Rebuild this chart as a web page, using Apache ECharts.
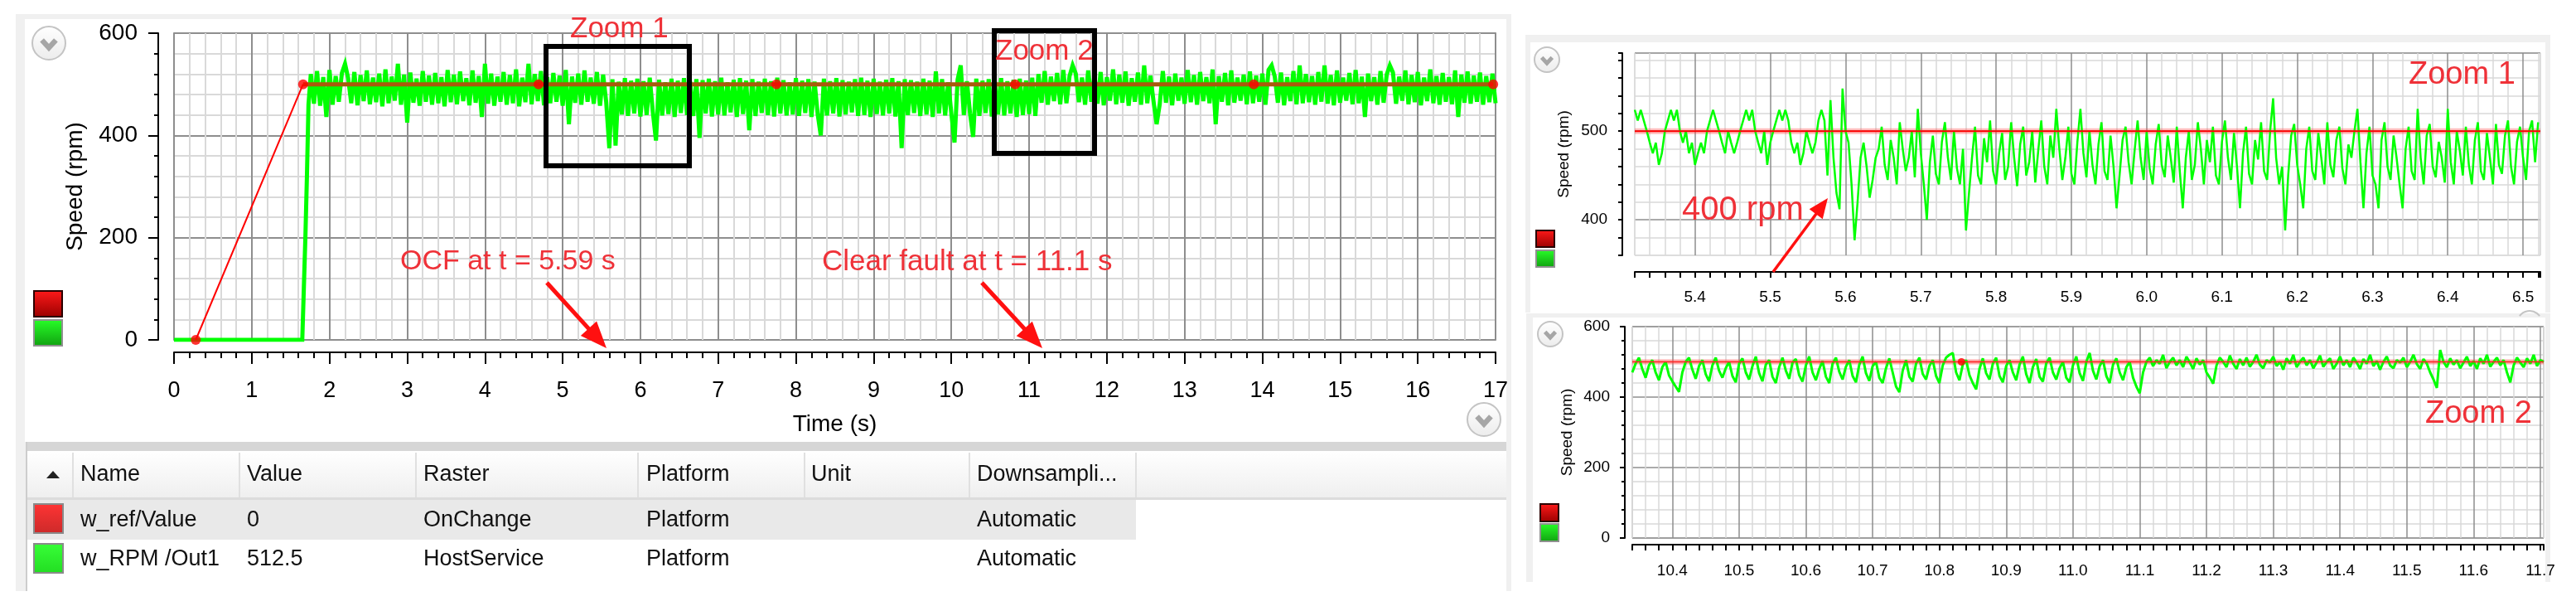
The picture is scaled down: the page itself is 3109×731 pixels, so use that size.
<!DOCTYPE html>
<html>
<head>
<meta charset="utf-8">
<script src="https://cdn.jsdelivr.net/npm/echarts@6/dist/echarts.min.js"></script>
<style>
  html, body { margin: 0; padding: 0; background: #fff; }
  #chart { width: 3109px; height: 731px; }
</style>
</head>
<body>
<div id="chart"></div>
<script>
// ---- main plot (time in s) ----
const refT = [0.28, 1.66, 4.69, 7.75, 10.82, 13.89, 16.97];
const refV = [0, 500, 500, 500, 500, 500, 500];
const startT = [0, 1.65, 1.67, 1.69, 1.71, 1.73];
const startV = [0, 0, 100, 200, 320, 460];
const noiseStep = 0.04;
const segAStart = 1.76; // before fault
const segA = [
  520,462,526,458,514,436,528,460,516,466,
  522,540,512,463,524,459,518,467,527,461,
  513,465,521,457,529,463,515,468,540,460,
  519,425,523,464,511,458,526,466,517,460,
  522,463,514,457,528,465,519,461,525,467,
  512,459,527,464,516,436,540,462,521,458,
  515,466,524,460,518,463,529,457,513,465,
  540,461,520,467,526,459,514,463,522,466,
  517,458,528,422,515,464,521,460,527,466,
  513,462,524,458,519,465
];
const segBStart = 5.60; // open circuit fault
const segB = [
  375,510,380,505,441,512,438,507,443,511,
  437,506,440,513,445,390,509,439,504,442,
  511,436,507,444,512,440,505,438,510,395,
  508,443,511,437,506,441,513,439,504,445,
  509,436,512,442,507,410,510,438,505,444,
  511,440,506,437,513,443,508,439,504,441,
  512,438,507,444,510,436,505,442,400,511,
  439,506,443,512,437,508,441,505,445,510,
  438,513,440,507,436,511,442,505,439,509,
  443,512,437,506,375,510,440,508,444,505,
  438,511,441,507,436,525,443,510,439,504,
  442,386,509,537,440,506,443,397,511,438,
  507,444,510,437,505,441,512,439,506,443,
  509,436,511,440,507,442,513,438
];
const segCStart = 11.12; // fault cleared
const segC = [
  520,464,526,460,515,467,522,461,528,463,
  516,537,521,465,513,460,527,466,518,462,
  524,459,514,468,529,461,519,464,525,458,
  512,466,523,460,537,463,517,467,422,461,
  526,464,515,459,521,468,513,462,528,465,
  518,460,524,467,514,463,529,422,516,466,
  522,459,527,464,513,468,519,461,525,463,
  517,466,521,460,528,537,515,464,523,459,
  514,467,526,461,537,463,520,465,516,460,
  524,466,537,462,518,459,527,464,513,468,
  522,461,528,463,515,436,521,467,514,460,
  526,464,519,537,523,462,515,468,527,461,
  518,465,524,459,513,467,529,463,516,460,
  522,466,514,461,527,436,519,464,525,462,
  517,466,523,460,516,465,521,463
];

// ---- zoom 1 (time in ms) ----
const zoom1Start = 5320;
const zoom1Step = 4;
const zoom1V = [
  524,512,524,512,500, 487,475,487,462,475, 500,512,524,512,524,500,
  487,500,475,487,462, 475,487,475,500, 512,524,512,500,
  487,475,500,487,475,487,500, 512,524,512,524,500, 487,475,500,462,487,
  500,512,524,512,524,512, 487,475,487,462,475,500,487,475,487, 512,524,512,
  450,535,470,430,412,548,500,487,440,377,420,470,487,460,425,445,470,
  480,505,462,445,490,470,440,510,480,455,
  470,500,448,525,475,440,400,465,495,452,
  440,488,510,470,445,500,458,440,480,388,
  430,470,505,450,440,492,465,512,455,440,
  475,498,445,460,510,470,438,485,505,450,
  465,500,442,478,512,460,440,495,470,525,
  480,445,470,505,452,440,488,525,475,448,
  500,462,440,485,510,455,445,495,460,413,
  450,490,505,465,440,478,512,470,445,500,
  458,440,485,508,462,448,495,470,442,505,
  455,413,470,500,445,462,510,480,440,490,
  465,505,450,440,488,512,470,445,498,460,
  413,475,505,452,440,490,468,510,455,445,
  500,537,470,440,460,388,450,495,508,462,
  440,413,480,505,455,445,498,470,440,510,
  462,448,490,505,458,440,485,470,500,525,
  465,413,475,505,450,440,413,490,510,460,
  445,495,470,440,413,480,505,455,445,525,
  470,440,495,508,460,448,488,470,442,525,
  465,440,500,478,450,505,462,440,490,510,
  455,445,498,470,440,508,462,452,495,512,
  460,440,488,505,470,445,500,512,465,510
];
const zoom1RefT = [5320, 6523];
const zoom1RefV = [500, 500];

// ---- zoom 2 (time in ms) ----
const zoom2Start = 10340;
const zoom2Step = 5;
const zoom2V = [
  470,495,512,480,455,490,505,470,448,485,500,462,
  445,430,415,470,500,512,478,452,488,505,465,445,
  490,512,475,455,482,500,460,442,495,510,470,450,
  488,515,468,445,492,505,458,440,485,512,475,452,
  498,508,462,444,490,515,470,448,480,502,458,440,
  495,512,472,450,486,505,460,442,492,515,468,446,
  488,500,455,440,482,510,470,430,414,475,505,458,
  444,495,512,466,450,488,505,460,440,490,512,520,
  525,470,448,492,505,462,440,422,480,510,468,450,
  495,512,460,442,488,505,470,448,492,515,465,440,
  485,508,458,444,496,512,470,450,482,500,455,442,
  490,515,468,446,500,525,475,450,488,505,460,440,
  492,510,470,448,485,500,455,430,411,
  470,500,512,488,505,495,520,482,500,512,490,505,
  485,515,498,480,510,492,505,470,455,438,490,512,
  500,485,518,495,480,508,490,512,486,500,520,492,
  482,505,498,515,488,500,478,510,495,520,485,500,
  512,490,505,482,498,518,486,500,510,480,495,515,
  490,505,485,512,498,480,508,495,520,488,502,478,
  500,515,490,482,505,498,512,485,500,520,494,480,
  508,495,470,450,426,534,500,485,510,492,505,482,
  498,515,488,502,480,510,495,520,486,500,512,490,
  505,470,442,490,512,498,485,510,495,520,488,505,
  500
];
const zoom2RefT = [10340, 10833, 11705];
const zoom2RefV = [500, 500, 500];

// ---- signal table ----
const tableHeads = ['Name', 'Value', 'Raster', 'Platform', 'Unit', 'Downsampli...'];
const tableRows = [
  ['w_ref/Value', '0', 'OnChange', 'Platform', '', 'Automatic'],
  ['w_RPM /Out1', '512.5', 'HostService', 'Platform', '', 'Automatic']
];
const tableColX = [97, 298, 511, 780, 979, 1179];
const tableSepX = [87, 288, 501, 769, 970, 1169, 1370];

const FONT = 'Liberation Sans, Arial, sans-serif';
const RED_TXT = '#ef3138';
const MAJOR = '#8e8e8e';
const MINOR = '#d9d9d9';

const mainGreen = startT.map((t, i) => [t, startV[i]]);
[[segAStart, segA], [segBStart, segB], [segCStart, segC]].forEach(([t0, vals]) => {
  vals.forEach((v, i) => mainGreen.push([+(t0 + i * noiseStep).toFixed(3), v]));
});
const z1Green = zoom1V.map((v, i) => [zoom1Start + i * zoom1Step, v]);
const z2Green = zoom2V.map((v, i) => [zoom2Start + i * zoom2Step, v]);
const refPts = refT.map((t, i) => [t, refV[i]]);

function box(x, y, w, h, fill, z) {
  return { type: 'rect', silent: true, z: z === undefined ? -50 : z,
    shape: { x: x, y: y, width: w, height: h }, style: { fill: fill } };
}
function txt(x, y, s, size, color, z) {
  return { type: 'text', silent: true, z: z || 60, x: x, y: y,
    style: { text: s, fontSize: size, fontFamily: FONT, fill: color, verticalAlign: 'middle', align: 'left' } };
}
function grad(c1, c2) {
  return new echarts.graphic.LinearGradient(0, 0, 0, 1, [{ offset: 0, color: c1 }, { offset: 1, color: c2 }]);
}
function swatch(x, y, w, h, c1, c2, border) {
  return { type: 'rect', silent: true, z: 60, shape: { x: x, y: y, width: w, height: h },
    style: { fill: grad(c1, c2), stroke: border, lineWidth: 2 } };
}
function dropIcon(cx, cy, r) {
  return [
    { type: 'circle', silent: true, z: 60, shape: { cx: cx, cy: cy, r: r },
      style: { fill: grad('#ffffff', '#ececec'), stroke: '#c4c4c4', lineWidth: 2 } },
    { type: 'polyline', silent: true, z: 61,
      shape: { points: [[cx - r * 0.42, cy - r * 0.18], [cx, cy + r * 0.28], [cx + r * 0.42, cy - r * 0.18]] },
      style: { fill: 'none', stroke: '#a6a6a6', lineWidth: r * 0.32 } }
  ];
}
function arrow(x1, y1, x2, y2, w, hl, hw) {
  const len = Math.hypot(x2 - x1, y2 - y1);
  const ux = (x2 - x1) / len, uy = (y2 - y1) / len;
  const bx = x2 - ux * hl, by = y2 - uy * hl;
  return [
    { type: 'line', silent: true, z: 60, shape: { x1: x1, y1: y1, x2: bx + ux * 2, y2: by + uy * 2 },
      style: { stroke: '#ff1010', lineWidth: w } },
    { type: 'polygon', silent: true, z: 61,
      shape: { points: [[x2, y2], [bx - uy * hw / 2, by + ux * hw / 2], [bx + uy * hw / 2, by - ux * hw / 2]] },
      style: { fill: '#ff1010' } }
  ];
}
function frame(x, y, w, h, stroke) {
  return { type: 'rect', silent: true, z: 60, shape: { x: x, y: y, width: w, height: h },
    style: { fill: 'none', stroke: stroke, lineWidth: 6 } };
}

const graphics = [
  // panels
  box(19, 17, 1805, 696, '#f0f0f0'),
  box(30, 23, 1788, 510, '#ffffff'),
  box(1841, 42, 1237, 335, '#f0f0f0'),
  box(1847, 51, 1225, 326, '#ffffff'),
  box(1842, 378, 1236, 324, '#f0f0f0'),
  box(1850, 383, 1222, 319, '#ffffff'),
  // table
  box(33, 533, 1785, 180, '#ffffff', -40),
  box(33, 533, 1785, 11, '#d6d6d6', -39),
  { type: 'rect', silent: true, z: -39, shape: { x: 33, y: 544, width: 1785, height: 56 },
    style: { fill: grad('#ffffff', '#efefef') } },
  box(33, 600, 1785, 3, '#dcdcdc', -38),
  box(33, 603, 1338, 48, '#e9e9e9', -38),
  box(31, 533, 2, 180, '#cdcdcd', -38),
  { type: 'polygon', silent: true, z: 60, shape: { points: [[56, 577], [72, 577], [64, 568]] }, style: { fill: '#222' } }
];
tableSepX.forEach(x => graphics.push(box(x, 546, 2, 54, '#e0e0e0', -37)));
tableHeads.forEach((h, i) => graphics.push(txt(tableColX[i], 573, h, 27, '#111')));
tableRows.forEach((row, r) => {
  row.forEach((s, i) => { if (s) graphics.push(txt(tableColX[i], 628 + r * 47, s, 27, '#111')); });
});
graphics.push(
  swatch(41, 608, 35, 35, '#ff3434', '#cc2a2a', '#8a8a8a'),
  swatch(41, 656, 35, 35, '#38ff38', '#22dd22', '#8a8a8a'),
  // legend swatches in plots
  swatch(41, 351, 34, 31, '#ff1a1a', '#9a0000', '#2a0000'),
  swatch(41, 386, 34, 31, '#28ff28', '#10a010', '#909090'),
  swatch(1854, 278, 22, 20, '#ff1a1a', '#9a0000', '#2a0000'),
  swatch(1854, 302, 22, 20, '#28ff28', '#10a010', '#909090'),
  swatch(1859, 608, 22, 21, '#ff1a1a', '#9a0000', '#2a0000'),
  swatch(1859, 632, 22, 21, '#28ff28', '#10a010', '#909090'),
  // annotations
  frame(659, 56, 173, 144, '#000'),
  frame(1200, 37, 121, 148, '#000'),
  txt(688, 35, 'Zoom 1', 35, RED_TXT),
  txt(1201, 62, 'Zoom 2', 35, RED_TXT),
  txt(483, 316, 'OCF at t = 5.59 s', 34, RED_TXT),
  txt(992, 316, 'Clear fault at t = 11.1 s', 35, RED_TXT),
  txt(2030, 254, '400 rpm', 40, RED_TXT),
  txt(2907, 91, 'Zoom 1', 38, RED_TXT),
  txt(2927, 500, 'Zoom 2', 38, RED_TXT),
  { type: 'arc', silent: true, z: 60, shape: { cx: 3053, cy: 390, r: 15, startAngle: Math.PI * 1.2, endAngle: Math.PI * 1.8 },
    style: { fill: 'none', stroke: '#c4c4c4', lineWidth: 2 } }
);
graphics.push(...arrow(660, 341, 732, 420, 5, 32, 26));
graphics.push(...arrow(1185, 341, 1258, 420, 5, 32, 26));
graphics.push(...arrow(2140, 328, 2206, 239, 3.5, 24, 20));
graphics.push(...dropIcon(59, 52, 20), ...dropIcon(1791, 506, 20), ...dropIcon(1867, 72, 15), ...dropIcon(1871, 403, 15));

const axisBlack = { show: true, onZero: false, lineStyle: { color: '#000', width: 2 } };
const smallLabel = { fontSize: 19, color: '#000', fontFamily: FONT };

const chart = echarts.init(document.getElementById('chart'), null, { renderer: 'canvas' });
chart.setOption({
  animation: false,
  backgroundColor: '#ffffff',
  textStyle: { fontFamily: FONT },
  graphic: { elements: graphics },
  grid: [
    { left: 210, top: 40, width: 1595, height: 370, show: true, borderColor: '#a4a4a4', borderWidth: 2, outerBoundsMode: 'none' },
    { left: 1973, top: 64, width: 1093, height: 244, show: true, borderColor: '#d4d4d4', borderWidth: 1, outerBoundsMode: 'none' },
    { left: 1970, top: 394, width: 1100, height: 255, show: true, borderColor: '#a4a4a4', borderWidth: 1, outerBoundsMode: 'none' }
  ],
  xAxis: [
    {
      type: 'value', gridIndex: 0, min: 0, max: 17, interval: 1, offset: 15,
      axisLine: axisBlack,
      axisTick: { length: 14, lineStyle: { color: '#000', width: 2 } },
      minorTick: { show: true, splitNumber: 5, length: 7, lineStyle: { color: '#000', width: 2 } },
      axisLabel: { fontSize: 27, color: '#000', margin: 33, fontFamily: FONT },
      splitLine: { show: true, lineStyle: { color: MAJOR, width: 2 } },
      minorSplitLine: { show: true, lineStyle: { color: MINOR, width: 2 } },
      name: 'Time (s)', nameLocation: 'middle', nameGap: 73, nameMoveOverlap: false,
      nameTextStyle: { fontSize: 28, color: '#000', fontFamily: FONT }
    },
    {
      type: 'value', gridIndex: 1, min: 5320, max: 6523, interval: 20, offset: 20,
      axisLine: axisBlack,
      axisTick: { length: 7, lineStyle: { color: '#000', width: 2 } },
      axisLabel: Object.assign({ margin: 21, formatter: v => Math.round(v) % 100 === 0 ? (v / 1000).toFixed(1) : '' }, smallLabel),
      splitLine: { show: true, lineStyle: { color: [MINOR, MINOR, MINOR, MINOR, MAJOR], width: 1.5 } }
    },
    {
      type: 'value', gridIndex: 2, min: 10340, max: 11705, interval: 20, offset: 8,
      axisLine: axisBlack,
      axisTick: { length: 7, lineStyle: { color: '#000', width: 2 } },
      axisLabel: Object.assign({ margin: 22, formatter: v => Math.round(v) % 100 === 0 ? (v / 1000).toFixed(1) : '' }, smallLabel),
      splitLine: { show: true, lineStyle: { color: [MINOR, MINOR, MINOR, MAJOR, MINOR], width: 1.5 } }
    }
  ],
  yAxis: [
    {
      type: 'value', gridIndex: 0, min: 0, max: 600, interval: 200, offset: 19,
      axisLine: axisBlack,
      axisTick: { length: 12, lineStyle: { color: '#000', width: 2 } },
      minorTick: { show: true, splitNumber: 5, length: 5, lineStyle: { color: '#000', width: 2 } },
      axisLabel: { fontSize: 28, color: '#000', margin: 25, fontFamily: FONT },
      splitLine: { show: true, lineStyle: { color: MAJOR, width: 2 } },
      minorSplitLine: { show: true, lineStyle: { color: MINOR, width: 2 } },
      name: 'Speed (rpm)', nameLocation: 'middle', nameGap: 86, nameMoveOverlap: false,
      nameTextStyle: { fontSize: 28, color: '#000', fontFamily: FONT }
    },
    {
      type: 'value', gridIndex: 1, min: 360, max: 588, interval: 20, offset: 15,
      axisLine: axisBlack,
      axisTick: { length: 5, lineStyle: { color: '#000', width: 2 } },
      axisLabel: Object.assign({ margin: 18, formatter: v => (v === 400 || v === 500) ? String(v) : '' }, smallLabel),
      splitLine: { show: true, lineStyle: { color: [MINOR, MINOR, MAJOR, MINOR, MINOR], width: 1.5 } },
      name: 'Speed (rpm)', nameLocation: 'middle', nameGap: 61, nameMoveOverlap: false,
      nameTextStyle: { fontSize: 19, color: '#000', fontFamily: FONT }
    },
    {
      type: 'value', gridIndex: 2, min: 0, max: 600, interval: 200, offset: 9,
      axisLine: axisBlack,
      axisTick: { length: 6, lineStyle: { color: '#000', width: 2 } },
      minorTick: { show: true, splitNumber: 5, length: 4, lineStyle: { color: '#000', width: 2 } },
      axisLabel: Object.assign({ margin: 18 }, smallLabel),
      splitLine: { show: true, lineStyle: { color: MAJOR, width: 1.5 } },
      minorSplitLine: { show: true, lineStyle: { color: MINOR, width: 1.5 } },
      name: 'Speed (rpm)', nameLocation: 'middle', nameGap: 60, nameMoveOverlap: false,
      nameTextStyle: { fontSize: 19, color: '#000', fontFamily: FONT }
    }
  ],
  series: [
    { type: 'line', xAxisIndex: 0, yAxisIndex: 0, data: mainGreen, showSymbol: false, z: 2, sampling: 'none',
      lineStyle: { color: '#00ff00', width: 5, join: 'miter', miterLimit: 4 } },
    { type: 'line', xAxisIndex: 0, yAxisIndex: 0, data: refPts.slice(0, 2), showSymbol: false, z: 3,
      lineStyle: { color: '#ff0000', width: 2 } },
    { type: 'line', xAxisIndex: 0, yAxisIndex: 0, data: refPts.slice(1), showSymbol: false, z: 3,
      lineStyle: { color: '#a85a0c', width: 5 } },
    { type: 'scatter', xAxisIndex: 0, yAxisIndex: 0, data: refPts, symbolSize: 12, z: 4,
      itemStyle: { color: '#ff0000' } },

    { type: 'line', xAxisIndex: 1, yAxisIndex: 1, data: zoom1RefT.map((t, i) => [t, zoom1RefV[i]]), showSymbol: false, z: 2,
      lineStyle: { color: 'rgba(255,70,70,0.35)', width: 7 } },
    { type: 'line', xAxisIndex: 1, yAxisIndex: 1, data: z1Green, showSymbol: false, z: 3,
      lineStyle: { color: '#00ff00', width: 2.5 } },
    { type: 'line', xAxisIndex: 1, yAxisIndex: 1, data: zoom1RefT.map((t, i) => [t, zoom1RefV[i]]), showSymbol: false, z: 4,
      lineStyle: { color: '#ff0000', width: 2 } },

    { type: 'line', xAxisIndex: 2, yAxisIndex: 2, data: zoom2RefT.map((t, i) => [t, zoom2RefV[i]]), showSymbol: false, z: 2,
      lineStyle: { color: 'rgba(255,70,70,0.45)', width: 6 } },
    { type: 'line', xAxisIndex: 2, yAxisIndex: 2, data: z2Green, showSymbol: false, z: 3,
      lineStyle: { color: '#00ff00', width: 3 } },
    { type: 'line', xAxisIndex: 2, yAxisIndex: 2, data: zoom2RefT.map((t, i) => [t, zoom2RefV[i]]), showSymbol: false, z: 4,
      lineStyle: { color: '#ff2020', width: 1.5 } },
    { type: 'scatter', xAxisIndex: 2, yAxisIndex: 2, data: [[zoom2RefT[1], zoom2RefV[1]]], symbolSize: 9, z: 5,
      itemStyle: { color: '#ff0000' } }
  ]
});
</script>
</body>
</html>
